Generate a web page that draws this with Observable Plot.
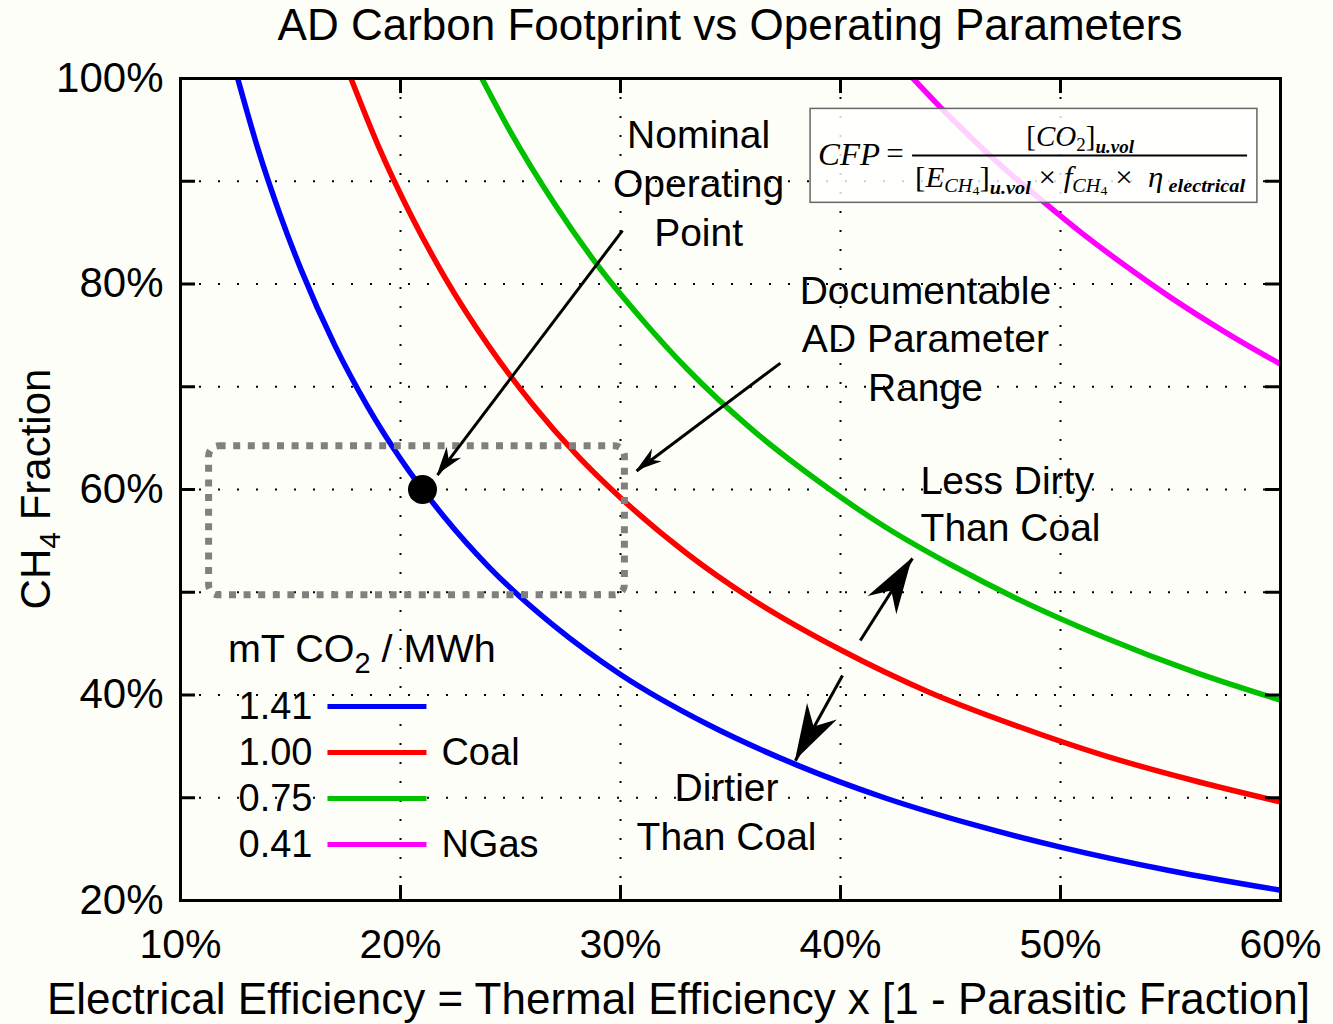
<!DOCTYPE html>
<html><head><meta charset="utf-8">
<script src="https://cdn.jsdelivr.net/npm/d3@7"></script>
<script src="https://cdn.jsdelivr.net/npm/@observablehq/plot@0.6"></script>
<style>
html,body{margin:0;padding:0;background:#fefef8;}
#title{height:52px;margin-left:180px;width:1100px;text-align:center;font-family:"Liberation Sans",Arial,sans-serif;font-size:44px;line-height:50px;color:#000;white-space:nowrap;}
#chart svg{display:block;}
</style></head><body>
<div id="title">AD Carbon Footprint vs Operating Parameters</div>
<div id="chart"></div>
<script>
// ---- axis ticks ----
const xTickValues = [10, 20, 30, 40, 50, 60];
const yTickLabelValues = [20, 40, 60, 80, 100];
const xGridValues = [20, 30, 40, 50];
const yGridValues = [30, 40, 50, 60, 70, 80, 90];

// ---- series, x = electrical efficiency %, y = CH4 fraction % ----
const seriesNames = ["1.41", "1.00", "0.75", "0.41"];
const seriesTags = ["", "Coal", "", "NGas"];
const seriesColors = ["#0000ff", "#ff0000", "#00c000", "#ff00ff"];

const blueX = [12.6, 13.5, 14.5, 15.5, 17, 18.5, 20, 22, 24, 27, 30, 34, 38, 42, 46, 50, 55, 60];
const blueY = [100, 93.3, 86.9, 81.3, 74.1, 68.1, 63.0, 57.3, 52.5, 46.7, 42.0, 37.1, 33.2, 30.0, 27.4, 25.2, 22.9, 21.0];
const redX = [17.75, 19, 20.5, 22, 24, 26, 28, 30, 33, 36, 40, 44, 48, 52, 56, 60];
const redY = [100, 93.4, 86.6, 80.7, 74.0, 68.3, 63.4, 59.2, 53.8, 49.3, 44.4, 40.3, 37.0, 34.1, 31.7, 29.6];
const greenX = [23.7, 25, 27, 29, 31, 33, 36, 39, 42, 45, 48, 52, 56, 60];
const greenY = [100, 94.8, 87.8, 81.7, 76.5, 71.8, 65.8, 60.8, 56.4, 52.7, 49.4, 45.6, 42.3, 39.5];
const magentaX = [43.3, 45, 47, 49, 51, 53, 55, 57.5, 60];
const magentaY = [100, 96.2, 92.1, 88.4, 84.9, 81.7, 78.7, 75.3, 72.2];

// ---- annotations (data coordinates) ----
const nominalPoint = {x: 21, y: 60};
const paramRange = {x1: 11.3, x2: 30.2, y1: 49.7, y2: 64.2};
const formulaBox = {x1: 38.64, x2: 58.95, y1: 87.9, y2: 97.04};
const annotationTexts = [
  {x: 33.55, y: 90.0, text: "Nominal\nOperating\nPoint", anchor: "middle"},
  {x: 43.86, y: 74.86, text: "Documentable\nAD Parameter\nRange", anchor: "middle"},
  {x: 43.64, y: 58.77, text: "Less Dirty\nThan Coal", anchor: "start"},
  {x: 34.82, y: 28.85, text: "Dirtier\nThan Coal", anchor: "middle"}
];
const arrowSpecs = [
  {x1: 30.09, y1: 85.2, x2: 21.68, y2: 61.4, len: 28, half: 9},
  {x1: 37.27, y1: 72.3, x2: 30.73, y2: 61.8, len: 26, half: 8},
  {x1: 40.9, y1: 45.3, x2: 43.27, y2: 53.3, len: 56, half: 17},
  {x1: 40.09, y1: 41.9, x2: 37.95, y2: 33.6, len: 56, half: 17}
];
const legendRowY = [38.87, 34.4, 29.92, 25.45];
const legendLabelX = 16.0, legendLineX1 = 16.68, legendLineX2 = 21.18, legendTagX = 21.86;
const legendTitlePos = {x: 12.18, y: 43.15};

// build tables for the library
const allX = [blueX, redX, greenX, magentaX];
const allY = [blueY, redY, greenY, magentaY];
const curveRows = [];
allX.forEach((xs, i) => xs.forEach((x, j) => curveRows.push({x, y: allY[i][j], series: seriesNames[i], color: seriesColors[i]})));
const legendRows = seriesNames.map((n, i) => ({name: n, tag: seriesTags[i], color: seriesColors[i], y: legendRowY[i]}));

const W = 1333, H = 972, mT = 26, mB = 124, mL = 180, mR = 53;
const frameH = H - mT - mB, frameW = W - mL - mR;
const dotted = {stroke: "black", strokeOpacity: 1, strokeWidth: 2, strokeDasharray: "2,17"};
const sans = "'Liberation Sans', Arial, sans-serif";

const chart = Plot.plot({
  width: W, height: H,
  marginTop: mT, marginBottom: mB, marginLeft: mL, marginRight: mR,
  style: {background: "#fefef8", fontFamily: sans, color: "black", overflow: "visible"},
  x: {domain: [10, 60]},
  y: {domain: [20, 100]},
  color: {type: "identity"},
  marks: [
    Plot.gridX(xGridValues, dotted),
    Plot.gridY(yGridValues, dotted),
    Plot.line(curveRows, {x: "x", y: "y", z: "series", stroke: "color", strokeWidth: 5.5, curve: "monotone-x", clip: true}),
    Plot.rect([formulaBox], {x1: "x1", x2: "x2", y1: "y1", y2: "y2", fill: "white", fillOpacity: 0.82, stroke: "#666", strokeWidth: 1.5}),
    Plot.rect([paramRange], {x1: "x1", x2: "x2", y1: "y1", y2: "y2", fill: "none", stroke: "#808080", strokeWidth: 7, strokeDasharray: "7,7.6", rx: 10}),
    Plot.dot([nominalPoint], {x: "x", y: "y", r: 14.5, fill: "black", stroke: "none"}),
    Plot.link(arrowSpecs, {x1: "x1", y1: "y1", x2: "x2", y2: "y2", stroke: "black", strokeWidth: 3}),
    Plot.text(annotationTexts.filter(d => d.anchor === "middle"), {x: "x", y: "y", text: "text", fontSize: 39, lineHeight: 1.25, textAnchor: "middle", fill: "black"}),
    Plot.text(annotationTexts.filter(d => d.anchor === "start"), {x: "x", y: "y", text: "text", fontSize: 39, lineHeight: 1.2, textAnchor: "start", fill: "black"}),
    // legend
    Plot.link(legendRows, {x1: () => legendLineX1, x2: () => legendLineX2, y1: "y", y2: "y", stroke: "color", strokeWidth: 5}),
    Plot.text(legendRows, {x: () => legendLabelX, y: "y", text: "name", fontSize: 38, textAnchor: "end", fill: "black"}),
    Plot.text(legendRows, {x: () => legendTagX, y: "y", text: "tag", fontSize: 38, textAnchor: "start", fill: "black"}),
    // inward ticks on all four sides
    Plot.ruleX(xGridValues, {stroke: "black", strokeWidth: 3, insetTop: frameH - 15}),
    Plot.ruleX(xGridValues, {stroke: "black", strokeWidth: 3, insetBottom: frameH - 15}),
    Plot.ruleY(yGridValues, {stroke: "black", strokeWidth: 3, insetRight: frameW - 15}),
    Plot.ruleY(yGridValues, {stroke: "black", strokeWidth: 3, insetLeft: frameW - 15}),
    Plot.frame({stroke: "black", strokeWidth: 3}),
    Plot.axisX({ticks: xTickValues, tickFormat: d => d + "%", tickSize: 0, tickPadding: 28, fontSize: 41, label: null}),
    Plot.axisY({ticks: yTickLabelValues, tickFormat: d => d + "%", tickSize: 0, tickPadding: 17, fontSize: 42, label: null}),
    Plot.text(["Electrical Efficiency = Thermal Efficiency x [1 - Parasitic Fraction]"], {frameAnchor: "bottom", lineAnchor: "middle", dy: 99, dx: -52, fontSize: 44, fill: "black"})
  ]
});
document.getElementById("chart").appendChild(chart);

// ---- post-render details that need tspans / filled arrowheads ----
const svg = d3.select(chart);
const sx = chart.scale("x"), sy = chart.scale("y");
const X = v => sx.range[0] + (v - sx.domain[0]) * (sx.range[1] - sx.range[0]) / (sx.domain[1] - sx.domain[0]);
const Y = v => sy.range[0] + (v - sy.domain[0]) * (sy.range[1] - sy.range[0]) / (sy.domain[1] - sy.domain[0]);

// filled notched arrowheads
arrowSpecs.forEach(a => {
  const x1 = X(a.x1), y1 = Y(a.y1), x2 = X(a.x2), y2 = Y(a.y2);
  const L = Math.hypot(x2 - x1, y2 - y1), ux = (x2 - x1) / L, uy = (y2 - y1) / L, nx = -uy, ny = ux;
  const bx = x2 - a.len * ux, by = y2 - a.len * uy;
  const pts = [[x2, y2], [bx + a.half * nx, by + a.half * ny], [x2 - 0.69 * a.len * ux, y2 - 0.69 * a.len * uy], [bx - a.half * nx, by - a.half * ny]];
  svg.append("path").attr("d", "M" + pts.map(p => p.join(",")).join("L") + "Z").attr("fill", "black");
});

// text with tspans helper
function richText(parent, x, y, pieces, attrs) {
  const t = parent.append("text").attr("x", x).attr("y", y).attr("text-anchor", "start");
  Object.entries(attrs || {}).forEach(([k, v]) => t.attr(k, v));
  let cur = 0;
  pieces.forEach(p => {
    const s = t.append("tspan").text(p.t);
    const off = p.off || 0;
    if (off !== cur) s.attr("dy", off - cur);
    cur = off;
    if (p.size) s.attr("font-size", p.size);
    if (p.it) s.attr("font-style", "italic");
    if (p.b) s.attr("font-weight", "bold");
  });
  return t;
}

// y axis label
const yMid = (Y(20) + Y(100)) / 2;
richText(svg, 0, 0, [{t: "CH"}, {t: "4", size: 30, off: 10}, {t: " Fraction", off: 0}],
  {transform: `translate(50,${yMid}) rotate(-90)`, "text-anchor": "middle", "font-size": 42, "font-family": sans, fill: "black"});

// legend title
richText(svg, X(legendTitlePos.x), Y(legendTitlePos.y), [{t: "mT CO"}, {t: "2", size: 29, off: 11}, {t: " / MWh", off: 0}],
  {"font-size": 39.5, "font-family": sans, fill: "black"});

// formula
const serif = "'Liberation Serif', 'Times New Roman', serif";
const fx = X(formulaBox.x1), fy = Y(formulaBox.y2);
const fg = svg.append("g").attr("font-family", serif).attr("fill", "black").attr("text-anchor", "start");
fg.append("text").attr("x", fx + 8).attr("y", fy + 57).attr("font-size", 31).attr("font-style", "italic").attr("text-anchor", "start").attr("textLength", 62).attr("lengthAdjust", "spacingAndGlyphs").text("CFP");
fg.append("text").attr("x", fx + 85).attr("y", fy + 56).attr("font-size", 31).attr("text-anchor", "middle").text("=");
fg.append("line").attr("x1", fx + 102).attr("x2", fx + 437).attr("y1", fy + 47).attr("y2", fy + 47).attr("stroke", "black").attr("stroke-width", 2);
richText(fg, fx + 270, fy + 38, [
  {t: "["}, {t: "CO", it: true}, {t: "2", size: 19, off: 5}, {t: "]", off: 0}, {t: "u.vol", it: true, b: true, size: 19, off: 7}
], {"font-size": 29, "text-anchor": "middle"});
richText(fg, fx + 105, fy + 79, [
  {t: "["}, {t: "E", it: true}, {t: "CH", it: true, size: 19, off: 5}, {t: "4", size: 13, off: 8}, {t: "]", off: 0},
  {t: "u.vol", it: true, b: true, size: 19, off: 7}, {t: " × ", off: 0}, {t: "f", it: true},
  {t: "CH", it: true, size: 19, off: 5}, {t: "4", size: 13, off: 8}, {t: " ×  ", off: 0}, {t: "η", it: true},
  {t: " electrical", it: true, b: true, size: 19, off: 5}
], {"font-size": 29, "textLength": 330, "lengthAdjust": "spacingAndGlyphs"});
</script>
</body></html>
